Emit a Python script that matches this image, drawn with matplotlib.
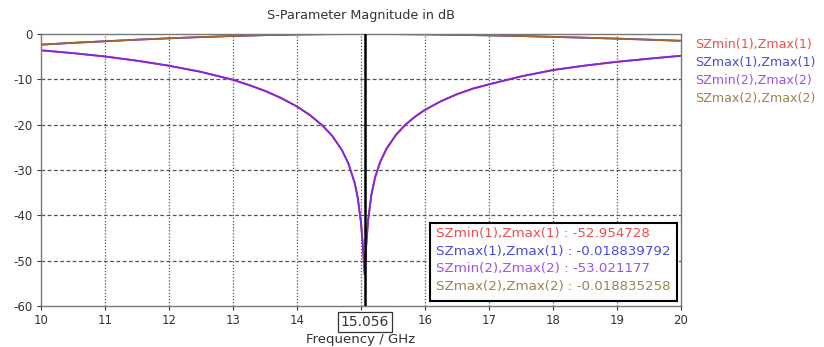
import matplotlib
matplotlib.use("Agg")
import matplotlib.pyplot as plt

plt.rcParams["axes.unicode_minus"] = False

# frequency samples (GHz) for the deep-notch curves
freq_dip = [10, 10.5, 11, 11.5, 12, 12.5, 13, 13.25, 13.5, 13.75, 14, 14.2,
            14.4, 14.55, 14.7, 14.8, 14.9, 14.95, 15.0, 15.03, 15.056, 15.08,
            15.11, 15.16, 15.22, 15.3, 15.4, 15.55, 15.7, 15.85, 16, 16.25,
            16.5, 16.75, 17, 17.5, 18, 18.5, 19, 19.5, 20]

s_min1 = [-3.6, -4.22, -4.96, -5.89, -7.0, -8.35, -10.1, -11.26, -12.55,
          -14.11, -16.0, -17.86, -20.22, -22.47, -25.57, -28.47, -32.8, -36.2,
          -41.7, -46.9, -52.95, -46.8, -41.2, -35.6, -31.6, -28.2, -25.25,
          -22.17, -19.92, -18.17, -16.72, -14.81, -13.28, -12.03, -11.1,
          -9.35, -7.95, -6.96, -6.13, -5.44, -4.8]
s_min2 = [-3.6, -4.22, -4.96, -5.89, -7.0, -8.35, -10.1, -11.26, -12.55,
          -14.11, -16.0, -17.86, -20.22, -22.47, -25.57, -28.47, -32.8, -36.2,
          -41.7, -46.9, -53.02, -46.8, -41.2, -35.6, -31.6, -28.2, -25.25,
          -22.17, -19.92, -18.17, -16.72, -14.81, -13.28, -12.03, -11.1,
          -9.35, -7.95, -6.96, -6.13, -5.44, -4.8]

# frequency samples for the near-0 dB curves
freq_flat = [10, 10.5, 11, 11.5, 12, 12.5, 13, 13.5, 14, 14.5, 15, 15.056,
             15.5, 16, 16.5, 17, 17.5, 18, 18.5, 19, 19.5, 20]
s_max1 = [-2.35, -1.95, -1.6, -1.25, -0.95, -0.68, -0.44, -0.25, -0.11,
          -0.03, -0.01, -0.0188, -0.02, -0.08, -0.18, -0.3, -0.45, -0.63,
          -0.82, -1.02, -1.25, -1.5]
s_max2 = [-2.35, -1.95, -1.6, -1.25, -0.95, -0.68, -0.44, -0.25, -0.11,
          -0.03, -0.01, -0.01884, -0.02, -0.08, -0.18, -0.3, -0.45, -0.63,
          -0.82, -1.02, -1.25, -1.5]

names = ["SZmin(1),Zmax(1)", "SZmax(1),Zmax(1)",
         "SZmin(2),Zmax(2)", "SZmax(2),Zmax(2)"]
marker_vals = ["-52.954728", "-0.018839792", "-53.021177", "-0.018835258"]
marker_f = 15.056

line_cols = ["#e03030", "#3030e0", "#8028e0", "#a8642a"]
text_cols = ["#e85050", "#4a4ad8", "#a050e8", "#a08050"]

fig = plt.figure(figsize=(8.24, 3.47), dpi=100)
ax = fig.add_axes([0.0498, 0.118, 0.7767, 0.784])

series = [(freq_dip, s_min1), (freq_flat, s_max1),
          (freq_dip, s_min2), (freq_flat, s_max2)]
for (fx, ys), c in zip(series, line_cols):
    ax.plot(fx, ys, color=c, lw=1.3)

ax.axvline(marker_f, color="black", lw=1.8, zorder=5)

ax.set_xlim(10, 20)
ax.set_ylim(-60, 0)
ax.set_xticks(range(10, 21))
ax.set_xticklabels(["" if v == 15 else str(v) for v in range(10, 21)])
ax.set_yticks(range(-60, 1, 10))
ax.tick_params(labelsize=8.5, colors="#333333", length=3, width=0.8, pad=3)

for v in range(11, 20):
    ax.axvline(v, color="#555555", lw=0.9, ls=(0, (1, 1.5)), zorder=0)
for v in range(-50, 0, 10):
    ax.axhline(v, color="#555555", lw=0.9, ls=(0, (3, 2)), zorder=0)

for s in ax.spines.values():
    s.set_color("#777777")
    s.set_linewidth(1.0)

ax.set_title("S-Parameter Magnitude in dB", fontsize=9.2, color="#333333", pad=11)
ax.set_xlabel("Frequency / GHz", fontsize=9.5, color="#333333", labelpad=4)

# boxed marker value on the x axis
ax.text(marker_f, -63.5, "15.056", ha="center", va="center", fontsize=10,
        color="#333333", clip_on=False,
        bbox=dict(boxstyle="square,pad=0.2", fc="white", ec="#333333", lw=0.9))

# marker info box
info = fig.add_axes([0.522, 0.133, 0.300, 0.225])
info.set_xticks([])
info.set_yticks([])
for s in info.spines.values():
    s.set_color("black")
    s.set_linewidth(1.5)
for i, (n, v, c) in enumerate(zip(names, marker_vals, text_cols)):
    info.text(0.025, 0.86 - i * 0.225, n + " : " + v, color=c, fontsize=9.6,
              va="center", ha="left", transform=info.transAxes)

# legend on the right
for i, (n, c) in enumerate(zip(names, text_cols)):
    fig.text(0.843, 0.872 - i * 0.0515, n, color=c, fontsize=9.1,
             va="center", ha="left")

fig.savefig("out.png", dpi=100)
